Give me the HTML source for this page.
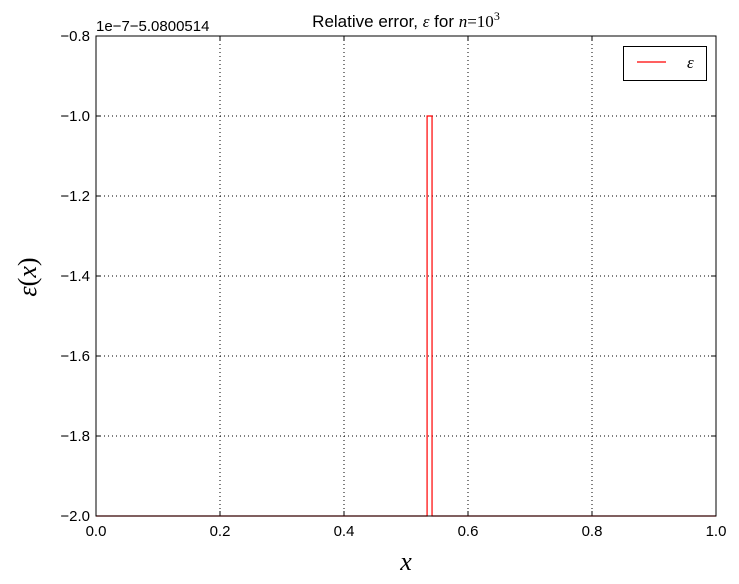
<!DOCTYPE html>
<html><head><meta charset="utf-8"><style>
body{margin:0;background:#fff;}
.s{font-family:"Liberation Sans",sans-serif;}
.r{font-family:"Liberation Serif",serif;}
</style></head><body>
<svg id="c" width="739" height="584" style="position:absolute;left:0;top:0" xmlns="http://www.w3.org/2000/svg"></svg>
<script>
const xTicks=[0,0.2,0.4,0.6,0.8,1.0];
const xTickLabels=["0.0","0.2","0.4","0.6","0.8","1.0"];
const yTicks=[-2.0,-1.8,-1.6,-1.4,-1.2,-1.0,-0.8];
const yTickLabels=["\u22122.0","\u22121.8","\u22121.6","\u22121.4","\u22121.2","\u22121.0","\u22120.8"];
const seriesX=[0,0.534,0.534,0.542,0.542,1];
const seriesY=[-2,-2,-1,-1,-2,-2];
const L=96,R=716,T=36,B=516;
const sx=v=>L+(v-0)/(1-0)*(R-L);
const sy=v=>B-(v-(-2))/((-0.8)-(-2))*(B-T);
const svg=document.getElementById('c');
const NS="http://www.w3.org/2000/svg";
function mk(t,a,p){const e=document.createElementNS(NS,t);for(const k in a)e.setAttribute(k,a[k]);(p||svg).appendChild(e);return e;}
xTicks.forEach((v,i)=>{
 const g=mk('line',{x1:sx(v),x2:sx(v),y1:T,y2:B,stroke:'#000','stroke-dasharray':'1,3','stroke-width':1});
 
 
 mk('line',{x1:sx(v),x2:sx(v),y1:B,y2:B-5,stroke:'#000'});
 mk('line',{x1:sx(v),x2:sx(v),y1:T,y2:T+5,stroke:'#000'});
 const t=mk('text',{x:sx(v),y:B+20,'text-anchor':'middle','font-size':15,'class':'s'});
 t.textContent=xTickLabels[i];
 
 
});
yTicks.forEach((v,i)=>{
 const g=mk('line',{x1:L,x2:R,y1:sy(v),y2:sy(v),stroke:'#000','stroke-dasharray':'1,3','stroke-width':1});
 
 
 mk('line',{x1:L,x2:L+5,y1:sy(v),y2:sy(v),stroke:'#000'});
 mk('line',{x1:R,x2:R-5,y1:sy(v),y2:sy(v),stroke:'#000'});
 const t=mk('text',{x:L-6,y:sy(v)+5,'text-anchor':'end','font-size':15,'class':'s'});
 t.textContent=yTickLabels[i];
 
 
});
const pts=seriesX.map((x,i)=>sx(x)+','+sy(seriesY[i])).join(' ');
const line=mk('polyline',{points:pts,fill:'none',stroke:'#f00','stroke-width':1.2});


const fr=mk('rect',{x:L,y:T,width:R-L,height:B-T,fill:'none',stroke:'#000','stroke-width':1});


</script>
<svg width="739" height="584" style="position:absolute;left:0;top:0" xmlns="http://www.w3.org/2000/svg">
<text class="s" x="96" y="31" font-size="15">1e−7−5.0800514</text>
<text class="s" x="406" y="27" font-size="17" text-anchor="middle">Relative error, <tspan class="r" font-style="italic">ε</tspan> for <tspan class="r" font-style="italic">n</tspan><tspan class="r">=10</tspan><tspan class="r" font-size="12" dy="-7">3</tspan></text>
<text class="r" x="406" y="570" font-size="26" text-anchor="middle" font-style="italic">x</text>
<text class="r" transform="translate(36,277) rotate(-90)" font-size="26" text-anchor="middle"><tspan font-style="italic">ε</tspan>(<tspan font-style="italic">x</tspan>)</text>
<g>
<rect x="623.5" y="46.5" width="83" height="34" fill="#fff" stroke="#000"/>
<line x1="637" y1="62" x2="666" y2="62" stroke="#f00" stroke-width="1.2"/>
<text class="r" x="687" y="68" font-size="17" font-style="italic">ε</text>
</g>
</svg>
</body></html>
